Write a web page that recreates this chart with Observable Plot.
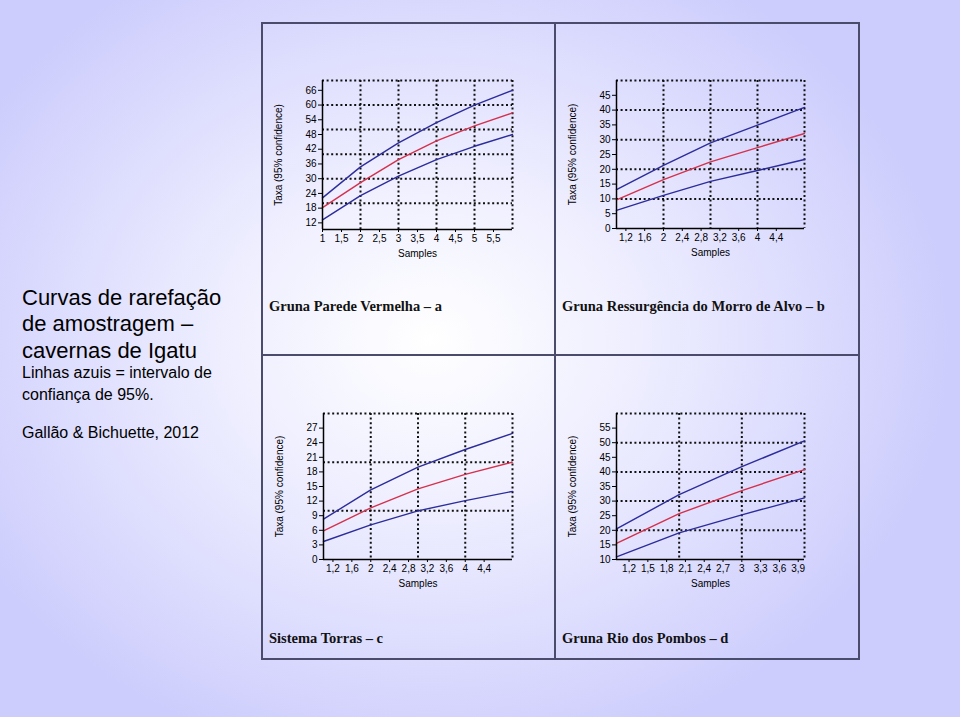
<!DOCTYPE html>
<html><head><meta charset="utf-8">
<script src="https://cdn.jsdelivr.net/npm/d3@7"></script>
<script src="https://cdn.jsdelivr.net/npm/@observablehq/plot@0.6"></script>
<style>
html,body{margin:0;padding:0;}
body{width:960px;height:717px;position:relative;overflow:hidden;
 background:radial-gradient(ellipse 520px 430px at 430px 340px,#ffffff 0%,#eeeeff 40%,#cdcdfd 100%);
 font-family:Arial,"Liberation Sans",sans-serif;color:#000;}
.abs{position:absolute;white-space:nowrap;}
.big{font-size:22px;line-height:26.5px;}
.small{font-size:16px;line-height:22px;}
.cap{font-family:"Liberation Serif","Times New Roman",serif;font-weight:bold;font-size:14.5px;line-height:18px;color:#111;}
.ln{position:absolute;background:#4b4b6b;}
</style></head><body>

<div class="abs big" style="left:22px;top:284.6px;">Curvas de rarefação<br>de amostragem –<br>cavernas de Igatu</div>
<div class="abs small" style="left:22px;top:361.5px;">Linhas azuis = intervalo de<br>confiança de 95%.</div>
<div class="abs small" style="left:22px;top:421.8px;">Gallão &amp; Bichuette, 2012</div>

<div class="ln" style="left:261px;top:22px;width:599px;height:2px;"></div>
<div class="ln" style="left:261px;top:658px;width:599px;height:2px;"></div>
<div class="ln" style="left:261px;top:22px;width:2px;height:638px;"></div>
<div class="ln" style="left:858px;top:22px;width:2px;height:638px;"></div>
<div class="ln" style="left:554px;top:22px;width:1.5px;height:638px;"></div>
<div class="ln" style="left:261px;top:354px;width:599px;height:1.5px;"></div>

<div class="abs cap" style="left:269px;top:297px;">Gruna Parede Vermelha – a</div>
<div class="abs cap" style="left:562px;top:297px;">Gruna Ressurgência do Morro de Alvo – b</div>
<div class="abs cap" style="left:269px;top:629px;">Sistema Torras – c</div>
<div class="abs cap" style="left:562px;top:629px;">Gruna Rio dos Pombos – d</div>

<div id="charts"></div>

<script>
// ---- Data ----
const samplesA = [1, 2, 3, 4, 5, 6];
const upperA   = [22.2, 34.8, 44.6, 52.8, 60.0, 66.0];
const meanA    = [18.2, 28.4, 37.8, 45.4, 51.5, 56.8];
const lowerA   = [13.2, 23.1, 31.0, 37.8, 43.2, 48.0];

const samplesB = [1, 2, 3, 4, 5];
const upperB   = [13.1, 21.3, 28.9, 34.9, 40.9];
const meanB    = [9.7, 16.5, 22.5, 27.3, 32.1];
const lowerB   = [6.1, 11.2, 15.9, 19.6, 23.3];

const samplesC = [1, 2, 3, 4, 5];
const upperC   = [8.3, 14.3, 19.0, 22.6, 25.9];
const meanC    = [5.9, 10.6, 14.5, 17.5, 20.0];
const lowerC   = [3.7, 7.1, 10.0, 12.1, 14.0];

const samplesD = [1, 2, 3, 4];
const upperD   = [20.5, 32.2, 41.8, 50.6];
const meanD    = [15.5, 25.7, 33.6, 40.8];
const lowerD   = [10.9, 19.1, 25.3, 31.1];

// ---- Ticks / grid ----
const yTicksA = [12, 18, 24, 30, 36, 42, 48, 54, 60, 66];
const xTicksA = [1, 1.5, 2, 2.5, 3, 3.5, 4, 4.5, 5, 5.5];
const gridYA = [20, 30, 40, 50, 60, 70];
const gridXA = [2, 3, 4, 5, 6];

const yTicksB = [0, 5, 10, 15, 20, 25, 30, 35, 40, 45];
const xTicksB = [1.2, 1.6, 2, 2.4, 2.8, 3.2, 3.6, 4, 4.4];
const gridYB = [10, 20, 30, 40, 50];
const gridXB = [2, 3, 4, 5];

const yTicksC = [0, 3, 6, 9, 12, 15, 18, 21, 24, 27];
const xTicksC = [1.2, 1.6, 2, 2.4, 2.8, 3.2, 3.6, 4, 4.4];
const gridYC = [10, 20, 30];
const gridXC = [2, 3, 4, 5];

const yTicksD = [10, 15, 20, 25, 30, 35, 40, 45, 50, 55];
const xTicksD = [1.2, 1.5, 1.8, 2.1, 2.4, 2.7, 3, 3.3, 3.6, 3.9];
const gridYD = [20, 30, 40, 50, 60];
const gridXD = [2, 3, 4];

const yLabel = "Taxa (95% confidence)";
const xLabel = "Samples";
const BLUE = "#2c2c9c", RED = "#d5304c";

function chart(o) {
  const mL = 60, mR = 6, mT = 20, mB = 36;
  const w = o.fx1 - o.fx0 + mL + mR;
  const h = o.fy1 - o.fy0 + mT + mB;
  const dot = {stroke: "#111", strokeWidth: 2, strokeDasharray: "2,2.6"};
  const fmt = d => String(d).replace(".", ",");
  const svg = Plot.plot({
    width: w, height: h,
    marginLeft: mL, marginRight: mR, marginTop: mT, marginBottom: mB,
    style: {background: "transparent", fontFamily: "Arial, 'Liberation Sans', sans-serif", fontSize: "10px", color: "#000", overflow: "visible"},
    x: {domain: o.xd},
    y: {domain: o.yd},
    marks: [
      Plot.ruleY(o.gy, dot),
      Plot.ruleX(o.gx, dot),
      Plot.lineY(o.upper, {x: o.samples, stroke: BLUE, strokeWidth: 1.4}),
      Plot.lineY(o.lower, {x: o.samples, stroke: BLUE, strokeWidth: 1.4}),
      Plot.lineY(o.mean, {x: o.samples, stroke: RED, strokeWidth: 1.4}),
      Plot.ruleX([o.xd[0]], {stroke: "#000", strokeWidth: 1.5}),
      Plot.ruleY([o.yd[0]], {stroke: "#000", strokeWidth: 1.5}),
      Plot.axisY({ticks: o.yt, tickSize: 4, tickPadding: 2, label: null}),
      Plot.axisX({ticks: o.xt, tickSize: 3, tickPadding: 2, tickFormat: fmt, label: null}),
      Plot.text([yLabel], {frameAnchor: "left", dx: -44, rotate: -90, textAnchor: "middle", lineAnchor: "middle", fontSize: 10}),
      Plot.text([xLabel], {frameAnchor: "bottom", dy: 24, textAnchor: "middle", lineAnchor: "middle", fontSize: 10})
    ]
  });
  const div = document.createElement("div");
  div.style.position = "absolute";
  div.style.left = (o.fx0 - mL) + "px";
  div.style.top = (o.fy0 - mT) + "px";
  div.appendChild(svg);
  document.getElementById("charts").appendChild(div);
}

chart({fx0: 322, fx1: 512, fy0: 80, fy1: 229, xd: [1, 6], yd: [9.3, 70],
  samples: samplesA, upper: upperA, mean: meanA, lower: lowerA,
  yt: yTicksA, xt: xTicksA, gy: gridYA, gx: gridXA});
chart({fx0: 616, fx1: 804, fy0: 80, fy1: 228, xd: [1, 5], yd: [0, 50],
  samples: samplesB, upper: upperB, mean: meanB, lower: lowerB,
  yt: yTicksB, xt: xTicksB, gy: gridYB, gx: gridXB});
chart({fx0: 323, fx1: 512, fy0: 413, fy1: 559, xd: [1, 5], yd: [0, 30],
  samples: samplesC, upper: upperC, mean: meanC, lower: lowerC,
  yt: yTicksC, xt: xTicksC, gy: gridYC, gx: gridXC});
chart({fx0: 616, fx1: 804, fy0: 413, fy1: 559, xd: [1, 4], yd: [10, 60],
  samples: samplesD, upper: upperD, mean: meanD, lower: lowerD,
  yt: yTicksD, xt: xTicksD, gy: gridYD, gx: gridXD});
</script>
</body></html>
